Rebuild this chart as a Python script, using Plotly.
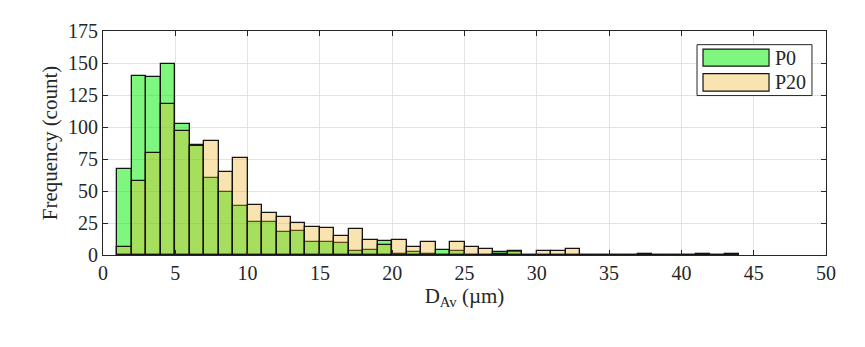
import plotly.graph_objects as go

# Bin left edges (width 1 µm)
bin_left = list(range(1, 44))
# Counts per bin
p0_counts = [67, 140, 139, 149, 102, 86, 60, 49, 38, 26, 26, 18, 19, 10, 10, 9, 3, 4, 11, 1,
             2, 1, 4, 3, 0, 0, 2, 2, 0, 0, 0, 0, 0, 0, 0, 0, 1, 0, 0, 0, 1, 0, 1]
p20_counts = [6, 58, 80, 118, 97, 85, 89, 65, 76, 39, 33, 30, 25, 22, 21, 15, 20, 12, 8, 12,
              6, 10, 0, 10, 6, 5, 1, 3, 0, 3, 3, 5, 0, 0, 0, 0, 0, 0, 0, 0, 0, 0, 0]
series_names = ["P0", "P20"]
x_ticks = list(range(0, 51, 5))
y_ticks = list(range(0, 176, 25))

bin_centers = [b + 0.5 for b in bin_left]

FONT = "Liberation Serif"
TXT = "#262626"
colors = ["rgba(0,240,0,0.5)", "rgba(237,177,32,0.35)"]

fig = go.Figure()
for name, counts, col in zip(series_names, [p0_counts, p20_counts], colors):
    fig.add_trace(go.Bar(
        x=bin_centers, y=counts, width=1, name=name, showlegend=False,
        marker=dict(color=col, line=dict(color="#141414", width=1.3)),
    ))

axis_common = dict(
    showline=True, linecolor=TXT, linewidth=1, mirror="ticks",
    ticks="inside", ticklen=5, tickcolor=TXT,
    showgrid=True, gridcolor="#e3e3e3", gridwidth=1, zeroline=False,
    tickfont=dict(family=FONT, size=20, color=TXT),
)
fig.update_layout(
    width=865, height=347,
    margin=dict(l=95, r=47, t=18, b=100),
    paper_bgcolor="white", plot_bgcolor="white",
    barmode="overlay", bargap=0,
    font=dict(family=FONT, size=20, color=TXT),
    xaxis=dict(range=[0, 50], tickvals=x_ticks,
               title=dict(text="D<sub>Av</sub> (µm)", font=dict(family=FONT, size=21), standoff=4),
               **axis_common),
    yaxis=dict(range=[0, 175], tickvals=y_ticks,
               title=dict(text="Frequency (count)", font=dict(family=FONT, size=21), standoff=4),
               **axis_common),
    showlegend=False,
)

# Legend drawn as a box with wide swatches (MATLAB style)
fig.add_shape(type="rect", xref="paper", yref="paper", x0=0.8216, x1=0.9806, y0=0.7118, y1=0.9389,
              line=dict(color=TXT, width=1), fillcolor="white", layer="above")
sw_y = [(0.8428, 0.9192), (0.7314, 0.8100)]
for name, col, (y0, y1) in zip(series_names, colors, sw_y):
    fig.add_shape(type="rect", xref="paper", yref="paper", x0=0.8299, x1=0.9212, y0=y0, y1=y1,
                  line=dict(color="#141414", width=1.2), fillcolor=col, layer="above")
    fig.add_annotation(xref="paper", yref="paper", x=0.9267, y=(y0 + y1) / 2, text=name,
                       showarrow=False, xanchor="left", yanchor="middle",
                       font=dict(family=FONT, size=20, color=TXT))

fig.write_html("out.html")
